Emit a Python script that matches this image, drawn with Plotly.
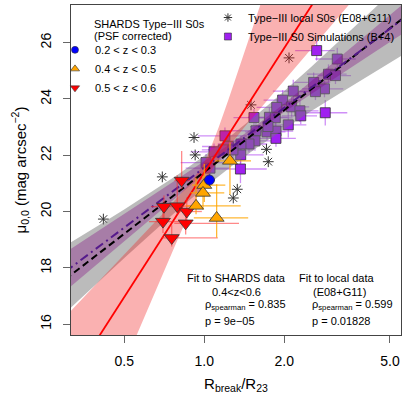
import plotly.graph_objects as go

# ---- SHARDS Type-III S0s (PSF corrected) ----
z23_x = [1.046]
z23_y = [21.12]
z23_xerr = [0.05]
z23_yerr = [0.2]

z45_x = [1.249, 1.0, 0.989, 0.931, 1.113]
z45_y = [21.80, 20.94, 20.66, 20.20, 19.77]
z45_xerr_lo = [0.15, 0.10, 0.10, 0.08, 0.20]
z45_xerr_hi = [0.25, 0.20, 0.20, 0.44, 0.35]
z45_yerr_lo = [1.20, 0.60, 0.60, 0.30, 0.70]
z45_yerr_hi = [0.65, 0.75, 0.60, 1.00, 1.20]

z56_x = [0.822, 0.705, 0.791, 0.859, 0.699, 0.851, 0.754]
z56_y = [21.10, 20.17, 20.19, 20.00, 19.64, 19.58, 19.06]
z56_xerr_lo = [0.05, 0.075, 0.06, 0.06, 0.08, 0.08, 0.06]
z56_xerr_hi = [0.06, 0.125, 0.10, 0.12, 0.12, 0.50, 0.37]
z56_yerr_lo = [0.30, 0.40, 0.30, 0.50, 0.40, 0.40, 0.30]
z56_yerr_hi = [1.05, 0.40, 1.10, 0.50, 0.50, 0.40, 0.45]

# ---- local Type-III S0s (E08+G11) ----
local_x = [0.417, 0.695, 0.915, 0.924, 1.286, 1.331, 1.499, 1.714, 1.741, 2.084]
local_y = [19.73, 21.23, 22.63, 22.01, 20.48, 20.79, 23.79, 22.21, 21.77, 25.46]

# ---- Type-III S0 simulations (B+4) ----
sim_x = [2.648, 3.166, 2.934, 3.117, 2.580, 2.834, 2.620, 2.162, 1.972, 1.873,
         2.132, 2.291, 2.307, 2.853, 1.538, 1.759, 1.850, 2.071, 1.565, 1.722,
         1.861, 1.861, 1.196, 1.551, 1.473, 1.374, 1.231, 1.179, 1.371, 1.368,
         1.015, 1.051, 1.088, 1.282, 1.737]
sim_y = [25.72, 25.42, 24.88, 24.83, 24.59, 24.36, 24.26, 24.28, 23.96, 23.70,
         23.72, 23.58, 23.40, 23.51, 23.34, 23.35, 23.33, 23.08, 22.87, 22.83,
         22.86, 22.60, 22.69, 22.51, 22.40, 22.40, 22.31, 22.19, 22.01, 21.51,
         21.74, 21.54, 22.12, 22.19, 23.02]
sim_xerr = [0.45, 0.55, 0.50, 0.45, 0.40, 0.50, 0.35, 0.35, 0.30, 0.30,
            0.35, 0.40, 0.35, 0.60, 0.25, 0.30, 0.30, 0.35, 0.30, 0.30,
            0.30, 0.35, 0.25, 0.30, 0.25, 0.25, 0.25, 0.20, 0.30, 0.35,
            0.20, 0.20, 0.20, 0.25, 0.25]
sim_yerr = [0.35, 0.40, 0.35, 0.30, 0.35, 0.30, 0.30, 0.40, 0.35, 0.30,
            0.35, 0.40, 0.30, 0.45, 0.30, 0.35, 0.30, 0.45, 0.30, 0.30,
            0.35, 0.30, 0.30, 0.35, 0.30, 0.30, 0.30, 0.35, 0.30, 0.50,
            0.30, 0.30, 0.30, 0.30, 0.30]

# ---- fits ----
shards_fit_x = [0.3, 3.0]
shards_fit_y = [13.70, 28.40]
local_fit_x = [0.3, 6.0]
local_fit_y = [17.59, 27.09]
sim_fit_x = [0.3, 6.0]
sim_fit_y = [17.86, 27.06]

# confidence bands
shards_band_y = [15.0, 16.0, 17.0, 18.0, 19.0, 20.0, 21.0, 21.5, 22.0, 23.0,
                 24.0, 25.0, 26.0, 27.0, 28.0]
shards_band_xleft = [0.2246, 0.2831, 0.3569, 0.4498, 0.5662, 0.7110, 0.8830, 0.9658,
                     1.0306, 1.1342, 1.2353, 1.3419, 1.4573, 1.5812, 1.7150]
shards_band_xright = [0.5224, 0.5794, 0.6430, 0.7138, 0.7933, 0.8843, 0.9970, 1.0718,
                      1.1671, 1.4174, 1.7404, 2.1415, 2.6386, 3.2532, 4.0113]

band_x = [0.2512, 0.3162, 0.3981, 0.5012, 0.6310, 0.7943, 1.0, 1.2589, 1.5849,
          1.9953, 2.5119, 3.1623, 3.9811, 5.0119, 6.3096]
local_band_lo = [15.72, 16.61, 17.49, 18.36, 19.21, 20.05, 20.84, 21.59, 22.28,
                 22.93, 23.55, 24.14, 24.73, 25.30, 25.87]
local_band_hi = [18.34, 18.91, 19.49, 20.08, 20.69, 21.31, 21.98, 22.69, 23.46,
                 24.27, 25.12, 25.98, 26.85, 27.74, 28.62]
sim_band_lo = [16.56, 17.36, 18.16, 18.96, 19.76, 20.55, 21.34, 22.12, 22.85,
               23.53, 24.17, 24.79, 25.41, 26.03, 26.65]
sim_band_hi = [18.07, 18.69, 19.30, 19.92, 20.54, 21.16, 21.78, 22.42, 23.09,
               23.83, 24.61, 25.40, 26.19, 26.99, 27.79]

x_ticks = [0.5, 1, 2, 5]
x_ticktext = ["0.5", "1.0", "2.0", "5.0"]
y_ticks = [16, 18, 20, 22, 24, 26]

FONT = "Liberation Sans, Arial, sans-serif"
OUTLINE = "#333333"

fig = go.Figure()

# simulations (under the bands)
fig.add_trace(go.Scatter(
    x=sim_x, y=sim_y, mode="markers", showlegend=False,
    marker=dict(symbol="square", size=10, color="#A020F0",
                line=dict(color=OUTLINE, width=0.8)),
    error_x=dict(type="data", array=sim_xerr, color="rgba(160,32,240,0.5)",
                 thickness=1.3, width=0),
    error_y=dict(type="data", array=sim_yerr, color="rgba(160,32,240,0.5)",
                 thickness=1.3, width=0),
))
fig.add_trace(go.Scatter(
    x=local_x, y=local_y, mode="markers", showlegend=False,
    marker=dict(symbol="asterisk-open", size=9, color=OUTLINE,
                line=dict(color=OUTLINE, width=1)),
))

# bands
fig.add_trace(go.Scatter(
    x=band_x + band_x[::-1], y=local_band_lo + local_band_hi[::-1],
    mode="lines", fill="toself", fillcolor="rgba(120,120,120,0.5)",
    line=dict(width=0), showlegend=False, hoverinfo="skip"))
fig.add_trace(go.Scatter(
    x=band_x + band_x[::-1], y=sim_band_lo + sim_band_hi[::-1],
    mode="lines", fill="toself", fillcolor="rgba(128,0,128,0.33)",
    line=dict(width=0), showlegend=False, hoverinfo="skip"))
fig.add_trace(go.Scatter(
    x=shards_band_xleft + shards_band_xright[::-1],
    y=shards_band_y + shards_band_y[::-1],
    mode="lines", fill="toself", fillcolor="rgba(240,40,40,0.36)",
    line=dict(width=0), showlegend=False, hoverinfo="skip"))

# fit lines
fig.add_trace(go.Scatter(x=local_fit_x, y=local_fit_y, mode="lines", showlegend=False,
                         line=dict(color="black", width=2, dash="7px,4px")))
fig.add_trace(go.Scatter(x=sim_fit_x, y=sim_fit_y, mode="lines", showlegend=False,
                         line=dict(color="#551A8B", width=2, dash="9px,4px,2px,4px")))
fig.add_trace(go.Scatter(x=shards_fit_x, y=shards_fit_y, mode="lines", showlegend=False,
                         line=dict(color="red", width=1.8)))

# SHARDS points
fig.add_trace(go.Scatter(
    x=z56_x, y=z56_y, mode="markers", showlegend=False,
    marker=dict(symbol="triangle-down", size=13, color="red",
                line=dict(color=OUTLINE, width=0.8)),
    error_x=dict(type="data", symmetric=False, array=z56_xerr_hi, arrayminus=z56_xerr_lo,
                 color="rgba(255,40,40,0.55)", thickness=1.3, width=0),
    error_y=dict(type="data", symmetric=False, array=z56_yerr_hi, arrayminus=z56_yerr_lo,
                 color="rgba(255,40,40,0.55)", thickness=1.3, width=0),
))
fig.add_trace(go.Scatter(
    x=z45_x, y=z45_y, mode="markers", showlegend=False,
    marker=dict(symbol="triangle-up", size=13, color="#FFA500",
                line=dict(color=OUTLINE, width=0.8)),
    error_x=dict(type="data", symmetric=False, array=z45_xerr_hi, arrayminus=z45_xerr_lo,
                 color="rgba(255,165,0,0.8)", thickness=1.3, width=0),
    error_y=dict(type="data", symmetric=False, array=z45_yerr_hi, arrayminus=z45_yerr_lo,
                 color="rgba(255,165,0,0.8)", thickness=1.3, width=0),
))
fig.add_trace(go.Scatter(
    x=z23_x, y=z23_y, mode="markers", showlegend=False,
    marker=dict(symbol="circle", size=10, color="blue",
                line=dict(color=OUTLINE, width=0.8)),
    error_x=dict(type="data", array=z23_xerr, color="blue", thickness=1.3, width=0),
    error_y=dict(type="data", array=z23_yerr, color="blue", thickness=1.3, width=0),
))

# legend keys
fig.add_trace(go.Scatter(x=[None], y=[None], mode="markers", name="0.2 &lt; z &lt; 0.3",
                         legend="legend",
                         marker=dict(symbol="circle", size=7, color="blue",
                                     line=dict(color=OUTLINE, width=0.6))))
fig.add_trace(go.Scatter(x=[None], y=[None], mode="markers", name="0.4 &lt; z &lt; 0.5",
                         legend="legend",
                         marker=dict(symbol="triangle-up", size=8, color="#FFA500",
                                     line=dict(color=OUTLINE, width=0.6))))
fig.add_trace(go.Scatter(x=[None], y=[None], mode="markers", name="0.5 &lt; z &lt; 0.6",
                         legend="legend",
                         marker=dict(symbol="triangle-down", size=8, color="red",
                                     line=dict(color=OUTLINE, width=0.6))))
fig.add_trace(go.Scatter(x=[None], y=[None], mode="markers",
                         name="Type\u2212III local S0s (E08+G11)", legend="legend2",
                         marker=dict(symbol="asterisk-open", size=7, color=OUTLINE,
                                     line=dict(color=OUTLINE, width=1))))
fig.add_trace(go.Scatter(x=[None], y=[None], mode="markers",
                         name="Type\u2212III S0 Simulations (B+4)", legend="legend2",
                         marker=dict(symbol="square", size=7, color="#A020F0",
                                     line=dict(color=OUTLINE, width=0.6))))


def note(text, x, y, anchor="center", size=11):
    fig.add_annotation(text=text, x=x, y=y, xref="paper", yref="paper",
                       xanchor=anchor, yanchor="middle", showarrow=False,
                       font=dict(family=FONT, size=size, color="black"))


note("SHARDS Type\u2212III S0s", 0.0636, 0.941, "left")
note("(PSF corrected)", 0.0636, 0.906, "left")
note("Fit to SHARDS data", 0.503, 0.1727)
note("0.4&lt;z&lt;0.6", 0.503, 0.1312)
note("\u03c1<sub>spearman</sub> = 0.835", 0.40, 0.0909, "left")
note("p = 9e\u221205", 0.40, 0.0433, "left")
note("Fit to local data", 0.806, 0.1727)
note("(E08+G11)", 0.815, 0.1312)
note("\u03c1<sub>spearman</sub> = 0.599", 0.7242, 0.0909, "left")
note("p = 0.01828", 0.7242, 0.0433, "left")

fig.update_layout(
    width=407, height=407,
    margin=dict(l=71, r=6, t=5, b=72, autoexpand=False),
    paper_bgcolor="white", plot_bgcolor="white",
    font=dict(family=FONT, size=14, color="black"),
    legend=dict(x=-0.0485, y=0.908, xanchor="left", yanchor="top",
                bgcolor="rgba(0,0,0,0)", font=dict(size=11), tracegroupgap=0),
    legend2=dict(x=0.415, y=1.006, xanchor="left", yanchor="top",
                 bgcolor="rgba(0,0,0,0)", font=dict(size=11), tracegroupgap=0),
    xaxis=dict(type="log", range=[-0.5017, 0.7404], tickvals=x_ticks, ticktext=x_ticktext,
               showgrid=False, zeroline=False, showline=True, mirror=True,
               linecolor="#444444", linewidth=1, ticks="outside", ticklen=7,
               tickcolor="#666666", tickfont=dict(size=14), ticklabelstandoff=6,
               automargin=False,
               title=dict(text="R<sub>break</sub>/R<sub>23</sub>", font=dict(size=15),
                          standoff=10)),
    yaxis=dict(range=[15.61, 27.34], tickvals=y_ticks, showgrid=False, zeroline=False,
               showline=True, mirror=True, linecolor="#444444", linewidth=1,
               ticks="outside", ticklen=7, tickcolor="#666666", tickangle=-90,
               tickfont=dict(size=14), ticklabelstandoff=6, automargin=False,
               title=dict(text="\u03bc<sub>0,0</sub> (mag arcsec<sup>\u22122</sup>)",
                          font=dict(size=15), standoff=8)),
)

# the page's default body margin would shift the chart by 8px
fig.write_html("out.html", config={"displayModeBar": False},
               post_script="document.body.style.margin='0';")
